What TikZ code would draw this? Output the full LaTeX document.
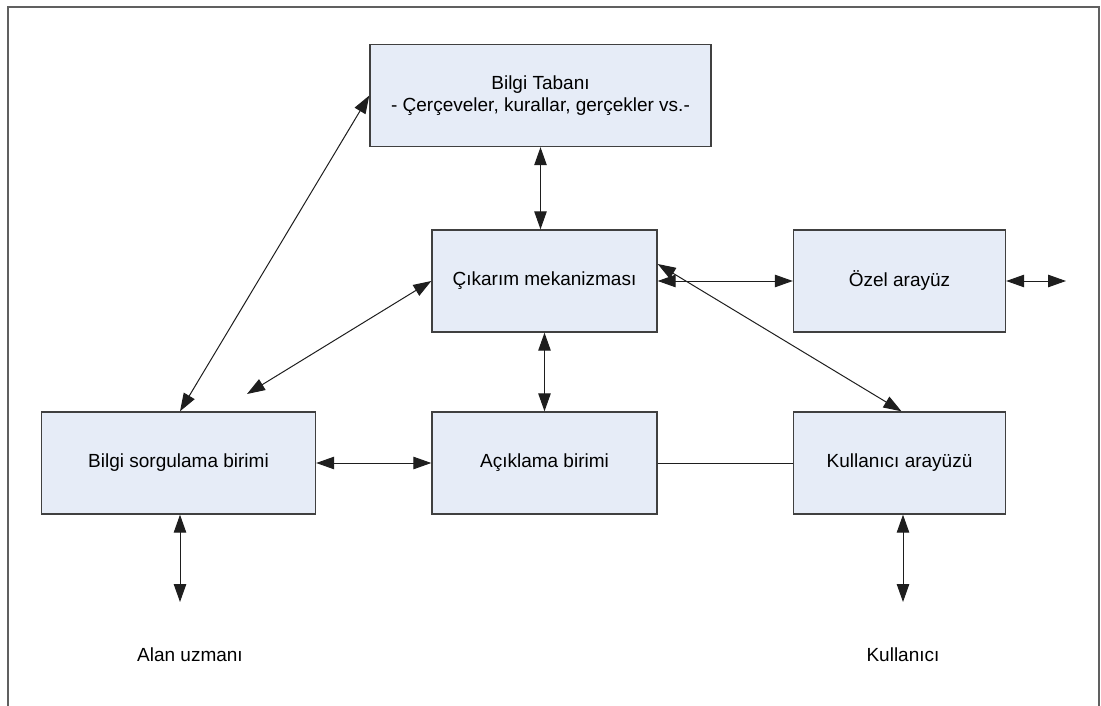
\documentclass[tikz,border=0pt]{standalone}
\usepackage{fontspec}
\setmainfont{Liberation Sans}
\usetikzlibrary{arrows.meta}
\definecolor{boxfill}{RGB}{230,236,247}
\definecolor{boxline}{RGB}{64,64,64}
\definecolor{framegray}{RGB}{96,96,96}
\definecolor{linkgray}{RGB}{30,30,30}
\begin{document}
\begin{tikzpicture}[x=1pt,y=-1pt,
  block/.style={draw=boxline, line width=1.4pt, fill=boxfill, inner sep=0pt,
    align=center, font=\fontsize{19}{22.5}\selectfont},
  bi/.style={draw=linkgray, line width=1pt,
    {Triangle[length=18pt,width=12.5pt]}-{Triangle[length=18pt,width=12.5pt]}},
  plain/.style={draw=linkgray, line width=1pt},
  caption/.style={font=\fontsize{19}{22.5}\selectfont, inner sep=0pt}]
\useasboundingbox (0,0) rectangle (1101,706);
% open frame around the drawing
\draw[framegray, line width=2pt] (8,706) -- (8,7) -- (1099,7) -- (1099,706);

% blocks
\node[block, minimum width=341pt, minimum height=102pt] (kb) at (540.5,95.5)
  {Bilgi Tabanı\\- Çerçeveler, kurallar, gerçekler vs.-};
\node[block, minimum width=225pt, minimum height=102pt] (inf) at (544.5,281) {Çıkarım mekanizması};
\node[block, minimum width=212pt, minimum height=102pt] (oz) at (899.5,281) {Özel arayüz};
\node[block, minimum width=274pt, minimum height=102pt] (sorg) at (178.5,463) {Bilgi sorgulama birimi};
\node[block, minimum width=225pt, minimum height=102pt] (exp) at (544.5,463) {Açıklama birimi};
\node[block, minimum width=212pt, minimum height=102pt] (kul) at (899.5,463) {Kullanıcı arayüzü};

% outside parties
\node[caption] (alan) at (190,655) {Alan uzmanı};
\node[caption] (user) at (903,655) {Kullanıcı};

% free ends of the open connectors
\coordinate (ozout) at (1066,281);
\coordinate (infsorg) at (247,394);
\coordinate (alanend) at (180,602);
\coordinate (userend) at (903,602);

% connectors
\draw[bi] (kb.south) -- (kb.south |- inf.north);
\draw[bi] (inf.south) -- (exp.north);
\draw[bi] (kb.west) -- ([xshift=1.5pt]sorg.north);
\draw[bi] (inf.west) -- (infsorg);
\draw[bi] (inf.east) -- (oz.west);
\draw[bi] (oz.east) -- (ozout);
\draw[bi] ([yshift=17pt]inf.east) -- ([xshift=2pt]kul.north);
\draw[bi] (sorg.east) -- (exp.west);
\draw[plain] (exp.east) -- (kul.west);
\draw[bi] ([xshift=1.5pt]sorg.south) -- (alanend);
\draw[bi] ([xshift=3.5pt]kul.south) -- (userend);
\end{tikzpicture}
\end{document}
